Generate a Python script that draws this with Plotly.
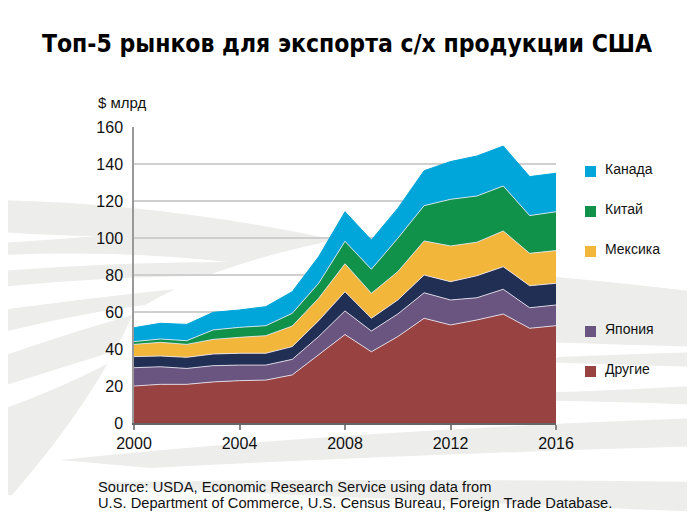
import plotly.graph_objects as go

years = list(range(2000, 2017))
drugie = [20, 20.9, 20.9, 22.2, 22.9, 23.2, 26, 36.8, 47.8, 38.5, 46.7, 56.6, 53, 55.7, 58.9, 51.2, 52.6]
yaponiya = [9.9, 9.5, 8.6, 8.8, 8.4, 8.1, 8.4, 9.9, 12.8, 11.2, 12.2, 13.8, 13.5, 12, 13.4, 11.1, 11.2]
es = [6, 5.8, 6, 6.3, 6.4, 6.4, 6.9, 8.6, 10.4, 6.9, 7.6, 9.6, 9.9, 11.9, 12.2, 11.9, 11.7]
meksika = [6.6, 7.4, 7, 7.9, 8.6, 9.5, 11.1, 12.1, 15.1, 13.5, 15.3, 18.4, 19.3, 18.1, 19.3, 17.5, 17.7]
kitay = [1.5, 1.8, 2, 5.1, 5.4, 5.4, 6.9, 8.1, 12.1, 13, 18, 19.1, 25.2, 25, 24.3, 20.4, 21]
kanada = [7.5, 8.5, 8.8, 9.5, 9.4, 10.3, 11.7, 14.4, 16, 15.8, 16.2, 18.9, 20.4, 21.6, 21.6, 21.1, 20.8]

series = [
    ("Другие", drugie, "#984341", True),
    ("Япония", yaponiya, "#6A5580", True),
    ("ЕС", es, "#222F55", False),
    ("Мексика", meksika, "#F2B63B", True),
    ("Китай", kitay, "#10924A", True),
    ("Канада", kanada, "#00A6DA", True),
]

source_lines = [
    "Source: USDA, Economic Research Service using data from",
    "U.S. Department of Commerce, U.S. Census Bureau, Foreign Trade Database.",
]

FONT = "Liberation Sans, Arial, Helvetica, sans-serif"
W, H = 695, 532
OFF = 8  # page body margin offset

fig = go.Figure()
for name, vals, color, _ in series:
    fig.add_trace(go.Scatter(
        x=years, y=vals, name=name, mode="lines", stackgroup="one",
        fillcolor=color,
        line=dict(color=color if name == "Канада" else "rgba(235,230,240,0.85)", width=1),
        showlegend=False,
    ))

# plot area in screen pixels
L, R, T, B = 134, 556, 127, 423
def px(x):
    return (x - L) / (R - L)
def py(y):
    return (B - y) / (B - T)

def path(cmds):
    out = []
    for c in cmds:
        if isinstance(c, str):
            out.append(c)
        else:
            out.append(f"{px(c[0]):.4f},{py(c[1]):.4f}")
    return " ".join(out)

GREY = "#EDEEEC"
shapes = []
def band(cmds, color=GREY):
    shapes.append(dict(type="path", path=path(cmds), xref="paper", yref="paper",
                       fillcolor=color, line=dict(width=0), layer="below"))

# background swooshes
band(["M", (0, 200), "Q", (170, 204), (335, 240), "Q", (200, 268), (134, 312),
      "Q", (95, 400), (12, 495), "L", (0, 495), "Z"])
band(["M", (0, 232), "Q", (50, 236), (97, 236), "Q", (50, 240), (0, 243), "Z"], "white")
band(["M", (0, 255), "Q", (120, 250), (228, 262), "Q", (120, 262), (0, 271), "Z"], "white")
band(["M", (0, 287), "Q", (150, 272), (300, 277), "Q", (150, 290), (0, 310), "Z"], "white")
band(["M", (0, 333), "Q", (100, 308), (190, 300), "Q", (100, 322), (0, 357), "Z"], "white")
band(["M", (0, 387), "Q", (80, 362), (150, 340), "Q", (80, 382), (0, 410), "Z"], "white")
band(["M", (60, 460), "Q", (350, 430), (705, 418), "L", (705, 446), "Q", (400, 455), (150, 468), "Z"])
band(["M", (100, 482), "Q", (400, 478), (705, 482), "L", (705, 512), "Q", (400, 500), (100, 486), "Z"])
band(["M", (500, 272), "Q", (630, 283), (705, 293), "L", (705, 347), "Q", (630, 345), (540, 342), "Z"])
band(["M", (560, 357), "Q", (650, 353), (705, 352), "L", (705, 367), "Q", (650, 366), (540, 362), "Z"])
band(["M", (520, 393), "Q", (630, 390), (705, 385), "L", (705, 405), "Q", (630, 402), (520, 400), "Z"])

# legend (manual, to reproduce the empty slot of the hidden entry)
annotations = []
leg_y = {"Канада": 171, "Китай": 211, "Мексика": 251, "Япония": 331, "Другие": 371}
for name, vals, color, show in series:
    if not show:
        continue
    yc = leg_y[name]
    shapes.append(dict(type="rect", xref="paper", yref="paper",
                       x0=px(585), x1=px(596), y0=py(yc + 6), y1=py(yc - 5),
                       fillcolor=color, line=dict(width=0)))
    annotations.append(dict(text=name, xref="paper", yref="paper", x=px(603), y=py(yc - 2),
                            xanchor="left", yanchor="middle", showarrow=False,
                            font=dict(family=FONT, size=14, color="#111")))

annotations.append(dict(text="$ млрд", xref="paper", yref="paper", x=px(96), y=py(103),
                        xanchor="left", yanchor="middle", showarrow=False,
                        font=dict(family=FONT, size=15, color="#111")))
for i, line in enumerate(source_lines):
    annotations.append(dict(text=line, xref="paper", yref="paper", x=px(96), y=py(487 + 16 * i),
                            xanchor="left", yanchor="middle", align="left", showarrow=False,
                            font=dict(family=FONT, size=14.7, color="#111")))

fig.update_layout(
    width=W, height=H,
    margin=dict(l=L - OFF, r=W - (R - OFF), t=T - OFF, b=H - (B - OFF)),
    paper_bgcolor="white", plot_bgcolor="rgba(0,0,0,0)",
    title=dict(text="<b>Топ-5 рынков для экспорта с/х продукции США</b>",
               x=(347 - OFF) / W, xanchor="center", y=1 - (43 - OFF) / H, yanchor="middle",
               font=dict(family="DejaVu Sans Condensed, Liberation Sans, Arial, sans-serif",
                         size=24.5, color="#000")),
    shapes=shapes, annotations=annotations,
    showlegend=False,
    font=dict(family=FONT, color="#111"),
)
fig.update_xaxes(range=[2000, 2016], tickmode="linear", tick0=2000, dtick=4,
                 showgrid=False, showline=True, linecolor="#666", linewidth=1.5,
                 ticks="outside", ticklen=5, tickcolor="#888", tickwidth=1.5,
                 tickfont=dict(family=FONT, size=16, color="#111"), zeroline=False)
fig.update_yaxes(range=[0, 160], tickmode="linear", tick0=0, dtick=20,
                 showgrid=True, gridcolor="#CFCFCF", gridwidth=1.5,
                 showline=True, linecolor="#999", linewidth=1.5,
                 ticks="", ticklabelstandoff=6,
                 tickfont=dict(family=FONT, size=16, color="#111"), zeroline=False)

fig.write_html("out.html")
